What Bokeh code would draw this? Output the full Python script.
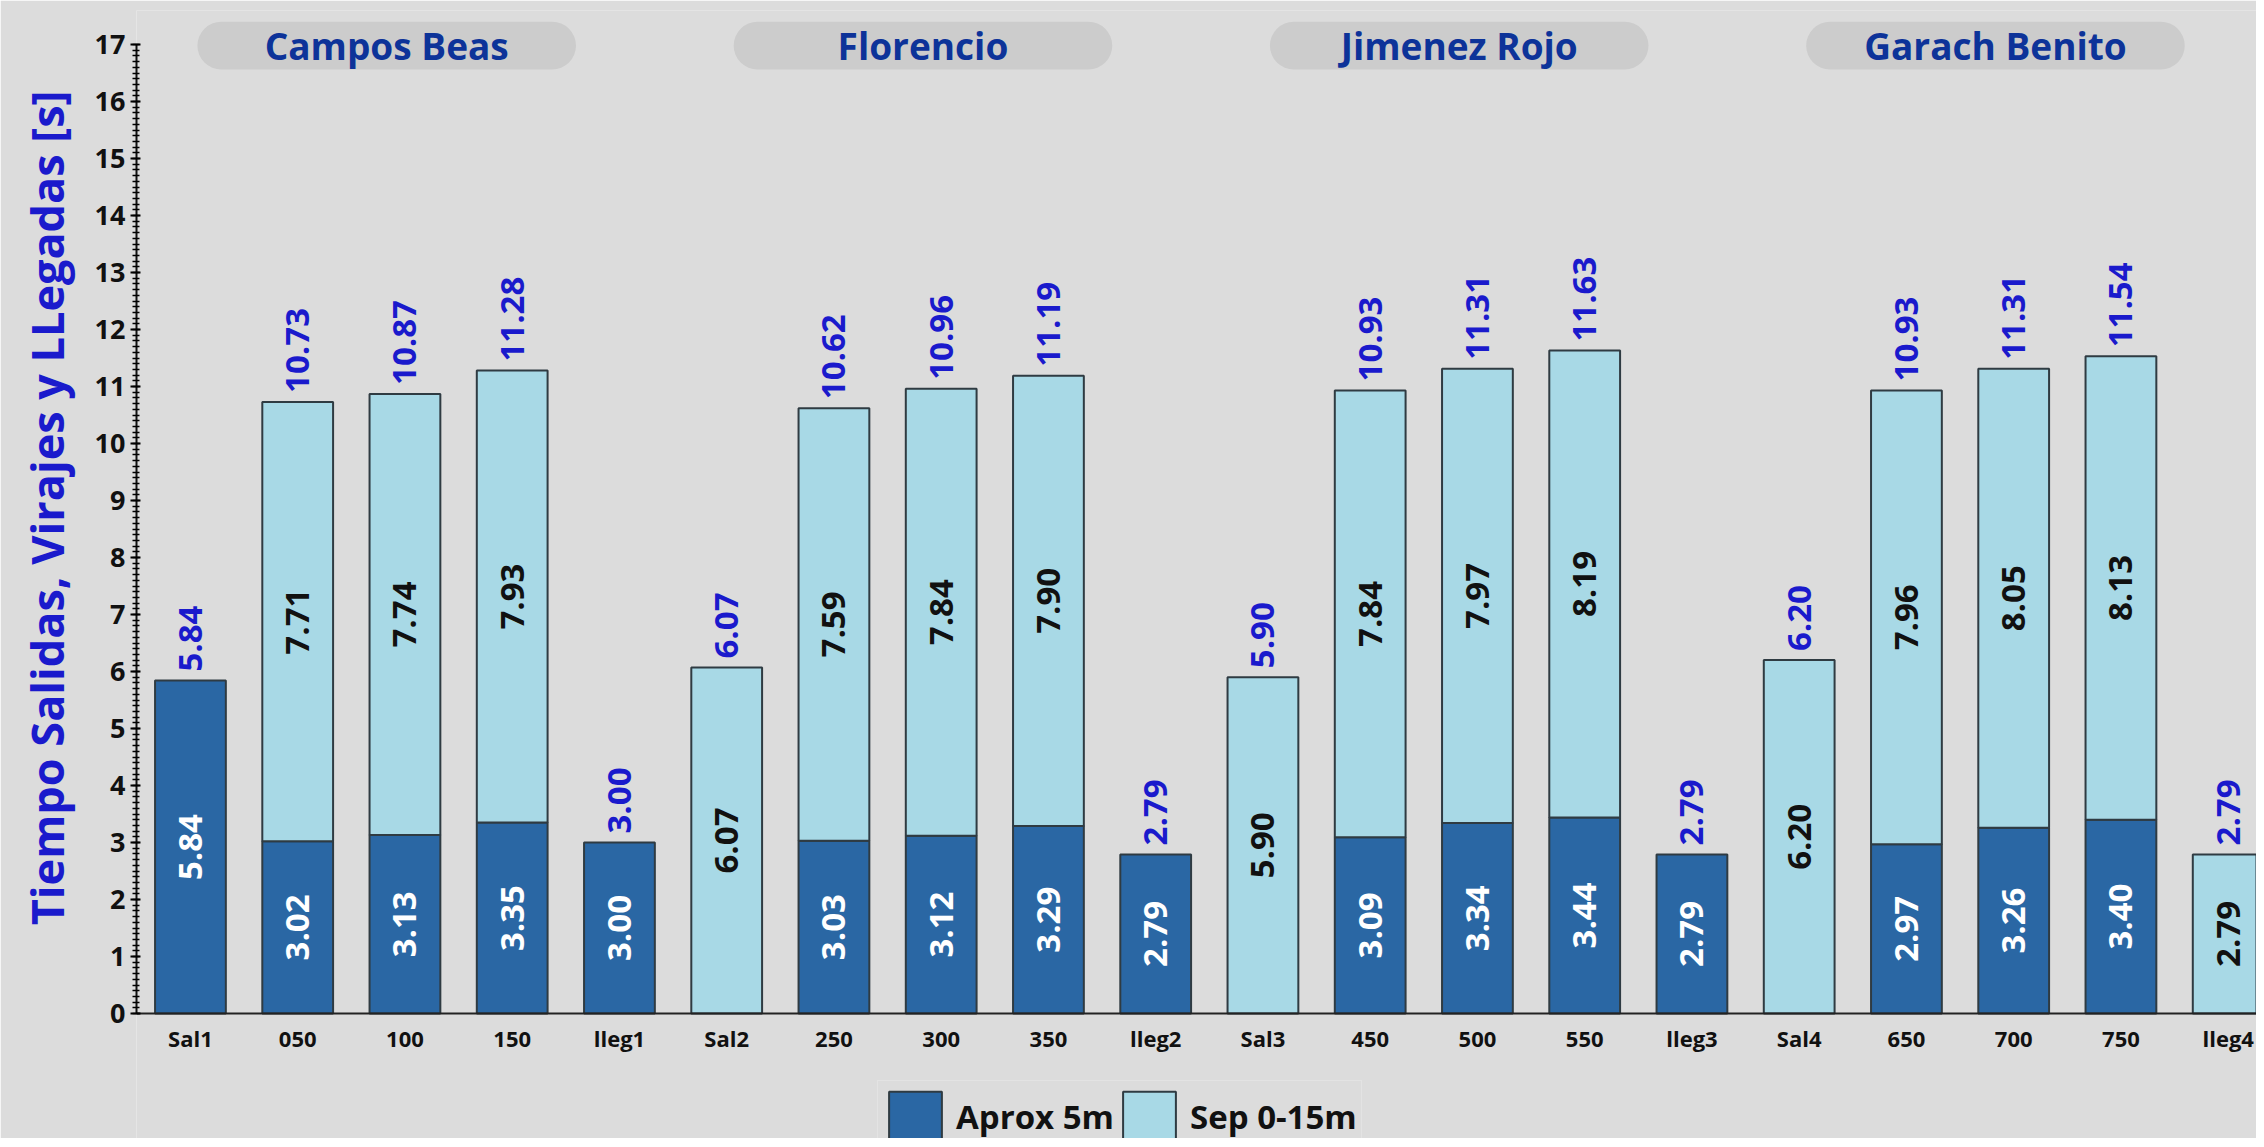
import numpy as np
from bokeh.plotting import figure
from bokeh.models import (ColumnDataSource, Range1d, FixedTicker, SingleIntervalTicker,
                          BoxAnnotation, Label, Legend, LegendItem, Title)
from bokeh.core.properties import value
from bokeh.embed import file_html
from bokeh.resources import INLINE

# ---------------- data ----------------
categories = ["Sal1", "050", "100", "150", "lleg1",
              "Sal2", "250", "300", "350", "lleg2",
              "Sal3", "450", "500", "550", "lleg3",
              "Sal4", "650", "700", "750", "lleg4"]
aprox_5m = [5.84, 3.02, 3.13, 3.35, 3.00,
            0.00, 3.03, 3.12, 3.29, 2.79,
            0.00, 3.09, 3.34, 3.44, 2.79,
            0.00, 2.97, 3.26, 3.40, 0.00]
sep_0_15m = [0.00, 7.71, 7.74, 7.93, 0.00,
             6.07, 7.59, 7.84, 7.90, 0.00,
             5.90, 7.84, 7.97, 8.19, 0.00,
             6.20, 7.96, 8.05, 8.13, 2.79]
total_labels = ["5.84", "10.73", "10.87", "11.28", "3.00",
                "6.07", "10.62", "10.96", "11.19", "2.79",
                "5.90", "10.93", "11.31", "11.63", "2.79",
                "6.20", "10.93", "11.31", "11.54", "2.79"]
groups = ["Campos Beas", "Florencio", "Jimenez Rojo", "Garach Benito"]
group_size = 5
series_names = ["Aprox 5m", "Sep 0-15m"]
y_title = "Tiempo Salidas, Virajes y LLegadas [s]"

# ---------------- styling ----------------
FONT_NAME = "Open Sans"
FONT = value(FONT_NAME)
BG = "#dcdcdc"
DARK = "#2a67a4"
LIGHT = "#a8d9e6"
OUTLINE = "#2f3b42"
BLUE_TXT = "#1a1acc"
NAVY = "#0d3399"
BAR_W = 0.66

W, H = 2256, 1138
ML, MT, MR, MB = 135, 10, 0, 0
ZERO_Y = 1013            # screen row of value 0
x0 = -0.503
px_per_cat = 107.3
px_per_unit = 57.0
x_end = x0 + (W - ML - MR) / px_per_cat
y_end = (ZERO_Y - MT) / px_per_unit
y_start = -(H - MB - ZERO_Y) / px_per_unit

p = figure(width=W, height=H, output_backend="svg", toolbar_location=None,
           x_range=Range1d(x0, x_end), y_range=Range1d(y_start, y_end),
           min_border_left=ML, min_border_bottom=MB, min_border_top=MT,
           min_border_right=MR)
p.background_fill_color = BG
p.border_fill_color = BG
p.outline_line_color = None
p.grid.visible = False

idx = np.arange(len(categories))
a = np.array(aprox_5m)
s = np.array(sep_0_15m)
tot = a + s

dark_mask = a > 0
light_mask = s > 0
dark_src = ColumnDataSource(dict(x=idx[dark_mask], top=a[dark_mask],
                                 mid=a[dark_mask] / 2,
                                 lab=[f"{v:.2f}" for v in a[dark_mask]]))
light_src = ColumnDataSource(dict(x=idx[light_mask], bottom=a[light_mask],
                                  top=tot[light_mask],
                                  mid=a[light_mask] + s[light_mask] / 2,
                                  lab=[f"{v:.2f}" for v in s[light_mask]]))
tot_src = ColumnDataSource(dict(x=idx, y=tot, lab=total_labels))

r_dark = p.vbar(x="x", width=BAR_W, bottom=0, top="top", source=dark_src,
                fill_color=DARK, line_color=OUTLINE, line_width=2)
r_light = p.vbar(x="x", width=BAR_W, bottom="bottom", top="top", source=light_src,
                 fill_color=LIGHT, line_color=OUTLINE, line_width=2)

p.text(x="x", y="mid", text="lab", source=dark_src, angle=np.pi / 2,
       text_align="center", text_baseline="middle", text_color="white",
       text_font=FONT, text_font_style="bold", text_font_size="33px")
p.text(x="x", y="mid", text="lab", source=light_src, angle=np.pi / 2,
       text_align="center", text_baseline="middle", text_color="#111111",
       text_font=FONT, text_font_style="bold", text_font_size="33px")
p.text(x="x", y="y", text="lab", source=tot_src, angle=np.pi / 2,
       text_align="left", text_baseline="middle", text_color=BLUE_TXT,
       text_font=FONT, text_font_style="bold", text_font_size="33px",
       y_offset=-9)

# group title pills
pill_half = 1.765
PILL_SHIFT = -0.17
for gi, name in enumerate(groups):
    members = idx[gi * group_size:(gi + 1) * group_size]
    c = float(members.mean()) + PILL_SHIFT
    p.add_layout(BoxAnnotation(left=c - pill_half, right=c + pill_half,
                               top=17.40, bottom=16.56, fill_color="#cccccc",
                               fill_alpha=1.0, line_color=None, border_radius=24))
    p.add_layout(Label(x=c, y=16.98, text=name, text_align="center",
                       text_baseline="middle", text_color=NAVY,
                       text_font=FONT_NAME, text_font_style="bold",
                       text_font_size="37px"))

# axes
xa = p.xaxis[0]
xa.fixed_location = 0
xa.ticker = FixedTicker(ticks=[int(i) for i in idx])
xa.major_label_overrides = {int(i): c for i, c in zip(idx, categories)}
xa.major_tick_out = 0
xa.major_tick_in = 0
xa.minor_tick_out = 0
xa.minor_tick_in = 0
xa.axis_line_width = 2
xa.axis_line_color = "#222222"
xa.major_label_text_font = FONT_NAME
xa.major_label_text_font_style = "bold"
xa.major_label_text_font_size = "22px"
xa.major_label_text_color = "#111111"
xa.major_label_standoff = 9

ya = p.yaxis[0]
ya.ticker = SingleIntervalTicker(interval=1, num_minor_ticks=10)
ya.bounds = (0, 17)
ya.axis_line_width = 2
ya.axis_line_color = "#111111"
ya.major_tick_out = 6
ya.major_tick_in = 4
ya.major_tick_line_width = 2
ya.minor_tick_out = 4
ya.minor_tick_in = 3
ya.minor_tick_line_width = 1.5
ya.major_label_text_font = FONT_NAME
ya.major_label_text_font_style = "bold"
ya.major_label_text_font_size = "27px"
ya.major_label_text_color = "#111111"
ya.major_label_standoff = 5

# y axis title as a left-side title (positioned from the top of the frame)
p.add_layout(Title(text=y_title, align="right", vertical_align="middle",
                   offset=80, standoff=28,
                   text_font=FONT_NAME, text_font_style="bold",
                   text_font_size="45px", text_color=BLUE_TXT), "left")

# legend (inside the frame, under the x axis)
legend = Legend(items=[LegendItem(label=series_names[0], renderers=[r_dark]),
                       LegendItem(label=series_names[1], renderers=[r_light])],
                location=(741, -14), orientation="horizontal", margin=0,
                glyph_width=66, glyph_height=62, spacing=2, padding=4,
                label_standoff=8,
                label_text_font=FONT_NAME, label_text_font_style="bold",
                label_text_font_size="33px", label_text_color="#111111",
                border_line_color="#eaeaea", background_fill_alpha=0)
p.add_layout(legend)

open("out.html", "w").write(file_html(p, INLINE))
